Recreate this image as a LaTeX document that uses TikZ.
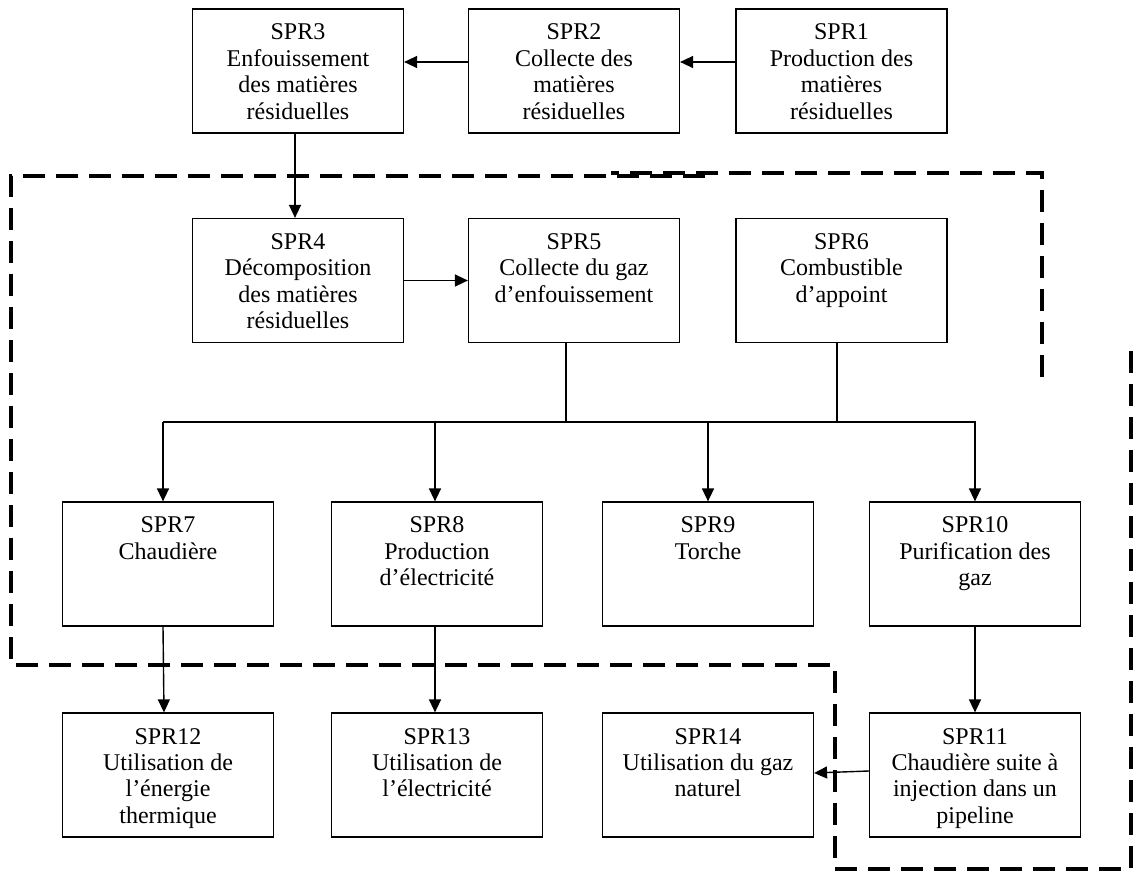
\documentclass[tikz,border=0pt]{standalone}
\usepackage{fontspec}
\setmainfont{Liberation Serif}
\usetikzlibrary{arrows.meta}
\newcommand{\sprtxt}[1]{\parbox[c][62pt][t]{104pt}{\centering\rule{0pt}{15.5pt}#1}}

\begin{document}
\begin{tikzpicture}[x=0.5pt,y=-0.5pt,
  spr/.style={draw,line width=.6pt,inner sep=0pt,minimum width=105.5pt,minimum height=62pt,
    font=\fontsize{12}{13.2}\selectfont},
  flow/.style={line width=.7pt,-{Triangle[length=6.5pt,width=6pt]}},
  link/.style={line width=.7pt},
  limit/.style={line width=2pt,dash pattern=on 11pt off 5.5pt}]
\useasboundingbox (0,0) rectangle (1136,871);
% ---- row 1: production, collecte, enfouissement
\node[spr] (SPR3) at (298,71)   {\sprtxt{SPR3\\Enfouissement\\des matières\\résiduelles}};
\node[spr] (SPR2) at (574,71)   {\sprtxt{SPR2\\Collecte des\\matières\\résiduelles}};
\node[spr] (SPR1) at (841.5,71) {\sprtxt{SPR1\\Production des\\matières\\résiduelles}};
% ---- row 2
\node[spr] (SPR4) at (298,280.5)   {\sprtxt{SPR4\\Décomposition\\des matières\\résiduelles}};
\node[spr] (SPR5) at (574,280.5)   {\sprtxt{SPR5\\Collecte du gaz\\d’enfouissement}};
\node[spr] (SPR6) at (841.5,280.5) {\sprtxt{SPR6\\Combustible\\d’appoint}};
% ---- row 3
\node[spr] (SPR7)  at (168,564) {\sprtxt{SPR7\\Chaudière}};
\node[spr] (SPR8)  at (437,564) {\sprtxt{SPR8\\Production\\d’électricité}};
\node[spr] (SPR9)  at (708,564) {\sprtxt{SPR9\\Torche}};
\node[spr] (SPR10) at (975,564) {\sprtxt{SPR10\\Purification des\\gaz}};
% ---- row 4
\node[spr] (SPR12) at (168,775) {\sprtxt{SPR12\\Utilisation de\\l’énergie\\thermique}};
\node[spr] (SPR13) at (437,775) {\sprtxt{SPR13\\Utilisation de\\l’électricité}};
\node[spr] (SPR14) at (708,775) {\sprtxt{SPR14\\Utilisation du gaz\\naturel}};
\node[spr] (SPR11) at (975,775) {\sprtxt{SPR11\\Chaudière suite à\\injection dans un\\pipeline}};
% ---- flows
\draw[flow] ([yshift=4.5pt]SPR1.west) -- ([yshift=4.5pt]SPR2.east);
\draw[flow] ([yshift=4.5pt]SPR2.west) -- ([yshift=4.5pt]SPR3.east);
\draw[flow] ([xshift=-1.5pt]SPR3.south) -- ([xshift=-1.5pt]SPR4.north);
\draw[flow] (SPR4.east) -- (SPR5.west);
% ---- distribution bus
\coordinate (busL) at (163,422);
\coordinate (busR) at (976,422);
\draw[link] (busL) -- (busR);
\draw[link] ([xshift=-4pt]SPR5.south) -- ([xshift=-4pt]SPR5.south |- busL);
\draw[link] ([xshift=-2.25pt]SPR6.south) -- ([xshift=-2.25pt]SPR6.south |- busL);
\foreach \n/\dx in {7/-2.5,8/-1,9/0,10/0}
  \draw[flow] ([xshift=\dx pt]SPR\n.north |- busL) -- ([xshift=\dx pt]SPR\n.north);
% ---- to final uses
\draw[flow] ([xshift=-2.5pt]SPR7.south) -- ([xshift=-2pt]SPR12.north);
\draw[flow] ([xshift=-1pt]SPR8.south) -- ([xshift=-1pt]SPR13.north);
\draw[flow] (SPR10.south) -- (SPR11.north);
\draw[flow] ([yshift=2pt]SPR11.west) -- ([yshift=1pt]SPR14.east);
% ---- system boundaries
\draw[limit] (1042,377) -- (1042,173) -- (611,173);
\draw[limit] (705,176) -- (11,176) -- (11,665) -- (835,665) -- (835,869) -- (1131,869) -- (1131,350);
\end{tikzpicture}
\end{document}
